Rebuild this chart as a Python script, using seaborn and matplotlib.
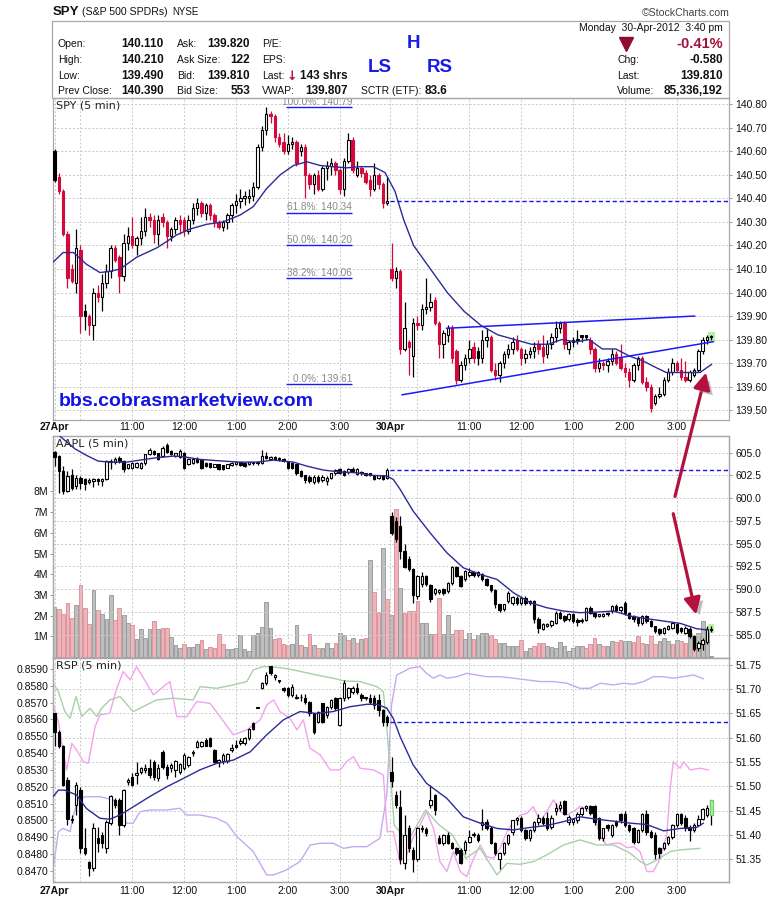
import numpy as np
import matplotlib
matplotlib.use("Agg")
import matplotlib.pyplot as plt
import matplotlib.patheffects as pe
from matplotlib.patches import Rectangle, ConnectionPatch
from matplotlib.lines import Line2D
import seaborn as sns

# ---------------- DATA ----------------
x_tick_pos = [0, 6, 18, 30, 42, 54, 66, 77.7, 84, 96, 108, 120, 132, 144]
x_tick_lab = ['27Apr', '', '11:00', '12:00', '1:00', '2:00', '3:00', '30Apr', '', '11:00', '12:00', '1:00', '2:00', '3:00']
day_labels = ['27Apr', '30Apr']

# SPY 5-min candles (27 Apr: 78 bars, 30 Apr: 75 bars)
spy_prior_close = 140.32
spy_open = [
 140.60,140.49,140.43,140.25,140.10,140.04,140.18,139.92,139.90,139.86,
 140.00,139.98,140.04,140.09,140.19,140.15,140.07,140.21,140.24,140.20,
 140.23,140.26,140.32,140.31,140.25,140.32,140.30,140.24,140.27,140.31,
 140.31,140.26,140.31,140.36,140.38,140.34,140.37,140.33,140.30,140.28,
 140.30,140.33,140.37,140.39,140.40,140.40,140.41,140.45,140.62,140.69,
 140.76,140.75,140.66,140.64,140.60,140.63,140.64,140.60,140.62,140.50,
 140.46,140.50,140.44,140.53,140.54,140.55,140.52,140.44,140.56,140.65,
 140.50,140.53,140.51,140.48,140.44,140.50,140.46,140.38,
 140.10,140.06,140.09,139.76,139.79,139.73,139.87,139.86,139.93,139.94,
 139.97,139.87,139.78,139.82,139.85,139.75,139.63,139.69,139.72,139.77,
 139.75,139.72,139.80,139.81,139.67,139.65,139.70,139.74,139.76,139.80,
 139.76,139.72,139.74,139.75,139.78,139.77,139.74,139.78,139.81,139.85,
 139.87,139.76,139.79,139.80,139.82,139.82,139.80,139.76,139.68,139.70,
 139.69,139.71,139.74,139.72,139.68,139.66,139.63,139.69,139.72,139.62,
 139.60,139.53,139.56,139.57,139.63,139.66,139.70,139.67,139.64,139.63,
 139.65,139.67,139.75,139.80,139.81]
spy_high = [
 140.61,140.51,140.44,140.26,140.12,140.27,140.20,139.95,139.91,140.02,
 140.03,140.08,140.12,140.20,140.20,140.16,140.25,140.28,140.32,140.24,
 140.32,140.36,140.34,140.33,140.33,140.34,140.31,140.28,140.32,140.33,
 140.32,140.33,140.38,140.40,140.39,140.38,140.38,140.34,140.31,140.31,
 140.34,140.38,140.42,140.44,140.43,140.44,140.47,140.63,140.71,140.79,
 140.77,140.76,140.68,140.68,140.67,140.66,140.65,140.63,140.63,140.51,
 140.51,140.52,140.54,140.56,140.57,140.56,140.53,140.57,140.68,140.66,
 140.56,140.54,140.52,140.50,140.55,140.51,140.47,140.49,
 140.21,140.11,140.10,139.96,139.80,139.89,139.90,139.95,140.06,140.00,
 139.98,139.88,139.84,139.86,139.86,139.76,139.71,139.74,139.80,139.79,
 139.77,139.84,139.85,139.82,139.70,139.71,139.75,139.78,139.81,139.82,
 139.77,139.76,139.77,139.79,139.80,139.82,139.80,139.83,139.88,139.88,
 139.88,139.80,139.81,139.84,139.82,139.82,139.81,139.77,139.72,139.71,
 139.72,139.76,139.75,139.78,139.70,139.68,139.70,139.73,139.73,139.64,
 139.61,139.57,139.60,139.64,139.68,139.72,139.71,139.72,139.71,139.67,
 139.68,139.76,139.81,139.82,139.82]
spy_low = [
 140.47,140.42,140.24,140.02,140.04,140.00,139.83,139.84,139.82,139.80,
 139.96,139.92,140.02,140.06,140.13,140.00,140.05,140.18,140.19,140.16,
 140.20,140.24,140.28,140.21,140.20,140.28,140.19,140.22,140.25,140.25,
 140.24,140.25,140.29,140.33,140.32,140.31,140.31,140.28,140.27,140.26,
 140.27,140.30,140.34,140.36,140.37,140.38,140.39,140.44,140.60,140.67,
 140.72,140.64,140.62,140.59,140.59,140.61,140.54,140.58,140.40,140.44,
 140.42,140.43,140.43,140.48,140.50,140.50,140.42,140.41,140.55,140.51,
 140.49,140.49,140.46,140.41,140.43,140.44,140.36,140.37,
 140.05,140.02,139.74,139.75,139.65,139.64,139.84,139.84,139.91,139.92,
 139.86,139.72,139.72,139.79,139.70,139.61,139.62,139.67,139.70,139.70,
 139.69,139.70,139.77,139.66,139.63,139.62,139.68,139.72,139.74,139.75,
 139.69,139.70,139.72,139.72,139.74,139.70,139.72,139.76,139.79,139.83,
 139.76,139.74,139.77,139.78,139.79,139.80,139.74,139.66,139.66,139.67,
 139.66,139.69,139.69,139.67,139.64,139.60,139.62,139.67,139.61,139.58,
 139.49,139.52,139.55,139.56,139.62,139.65,139.66,139.63,139.62,139.62,
 139.64,139.66,139.74,139.78,139.80]
spy_close = [
 140.48,140.43,140.25,140.06,140.05,140.19,139.90,139.90,139.86,140.00,
 139.98,140.04,140.09,140.19,140.14,140.07,140.21,140.24,140.20,140.23,
 140.26,140.32,140.31,140.25,140.31,140.30,140.24,140.27,140.31,140.29,
 140.26,140.31,140.36,140.38,140.34,140.37,140.33,140.30,140.28,140.30,
 140.33,140.37,140.39,140.40,140.41,140.41,140.45,140.62,140.69,140.76,
 140.75,140.66,140.63,140.60,140.63,140.64,140.55,140.62,140.50,140.46,
 140.50,140.44,140.53,140.54,140.55,140.52,140.44,140.56,140.65,140.52,
 140.53,140.51,140.47,140.44,140.50,140.46,140.38,140.39,
 140.06,140.09,139.76,139.85,139.77,139.87,139.86,139.93,139.94,139.96,
 139.87,139.78,139.83,139.85,139.72,139.63,139.69,139.72,139.76,139.72,
 139.72,139.80,139.81,139.67,139.65,139.70,139.74,139.76,139.79,139.76,
 139.72,139.74,139.75,139.77,139.76,139.73,139.78,139.81,139.85,139.87,
 139.78,139.79,139.80,139.80,139.81,139.81,139.76,139.68,139.70,139.69,
 139.71,139.74,139.70,139.68,139.66,139.63,139.69,139.72,139.62,139.60,
 139.51,139.56,139.57,139.63,139.66,139.70,139.67,139.64,139.63,139.66,
 139.67,139.75,139.80,139.81,139.81]
spy_prev_close = 140.39
spy_ma_x = [-0.3,2,4.4,7.4,10.5,12.8,15.2,19,23.7,28.3,31.4,35.2,39,43,46,49,52.2,55.3,58.4,61.5,
            64.5,67.6,70.7,73.8,76.5,78.8,80.8,83.1,87,90.9,94.8,98.7,102.6,106.5,110.4,114.3,117.4,
            120.6,123.7,126.8,129.9,133,136.1,139.3,141.6,145.5,149.4,152.1]
spy_ma_y = [140.13,140.17,140.17,140.12,140.085,140.09,140.10,140.15,140.19,140.245,140.27,140.29,140.30,
            140.33,140.365,140.44,140.50,140.54,140.556,140.54,140.535,140.53,140.535,140.535,140.51,140.43,
            140.31,140.20,140.10,140.00,139.92,139.86,139.82,139.80,139.78,139.78,139.80,139.79,139.80,139.76,
            139.76,139.73,139.71,139.68,139.66,139.66,139.66,139.695]
fib_pct = ['100.0%', '61.8%', '50.0%', '38.2%', '0.0%']
fib_price = [140.79, 140.34, 140.20, 140.06, 139.61]
trend_upper_x = [90.7, 148.2]; trend_upper_y = [139.848, 139.90]
trend_lower_x = [80.4, 152.5]; trend_lower_y = [139.565, 139.791]
spy_ticks = [139.50,139.60,139.70,139.80,139.90,140.00,140.10,140.20,140.30,140.40,140.50,140.60,140.70,140.80]

# AAPL 5-min candles + volume (millions)
aapl_prior_close = 606.0
aapl_open = [
 605.07,604.63,602.99,600.79,602.51,601.34,602.25,602.07,601.80,601.90,
 602.07,601.89,602.07,603.97,603.97,604.45,604.08,603.35,603.35,603.46,
 603.35,603.83,604.82,605.18,604.93,604.63,605.81,605.18,604.63,604.56,
 605.00,603.72,603.90,604.34,604.19,603.90,603.83,603.46,603.72,603.61,
 603.35,603.61,603.72,603.97,603.90,603.72,603.83,603.83,603.90,604.63,
 604.27,604.56,604.45,604.34,604.08,603.90,603.72,602.99,602.51,602.36,
 601.78,602.36,602.00,601.89,602.25,602.73,603.17,602.99,602.88,603.24,
 602.62,602.88,602.73,602.73,602.51,602.25,602.51,602.25,
 598.04,597.49,596.94,594.19,593.28,592.25,589.25,590.53,591.45,590.42,
 589.62,589.69,589.98,589.80,590.71,592.47,591.45,591.15,591.52,591.89,
 591.52,591.63,591.08,590.42,589.91,588.33,587.78,588.70,588.52,589.07,
 588.52,589.07,588.70,588.70,586.68,585.66,585.95,586.03,586.32,587.42,
 587.05,586.68,587.23,586.61,586.50,586.61,587.97,587.42,587.05,587.05,
 587.42,587.60,588.15,587.71,588.52,587.42,587.05,586.87,586.32,587.05,
 586.50,585.95,585.59,585.22,585.66,585.77,586.14,585.77,585.22,585.66,
 584.85,583.57,583.94,584.19,585.59]
aapl_high = [
 605.15,604.70,603.50,603.00,603.20,602.60,602.40,602.20,602.20,602.20,
 602.20,602.20,604.20,604.30,604.50,604.60,604.20,603.80,604.00,604.00,
 604.00,604.90,605.50,605.30,605.00,605.70,606.10,605.30,605.00,605.40,
 605.10,604.40,604.40,604.50,604.30,604.00,603.90,603.80,603.80,603.70,
 603.80,604.00,604.00,604.00,604.00,604.00,604.00,604.00,605.30,605.10,
 604.60,604.60,604.50,604.40,604.10,604.00,603.80,603.10,602.60,602.50,
 602.50,602.50,602.50,602.40,602.80,603.20,603.30,603.10,603.30,603.40,
 603.30,603.00,602.80,602.80,602.60,602.60,602.60,603.30,
 598.50,597.90,598.10,595.00,593.60,592.30,591.60,591.90,591.60,590.60,
 590.10,590.00,590.10,590.80,592.60,592.60,591.60,592.10,592.30,592.00,
 592.00,591.80,591.20,590.50,590.00,588.40,588.40,589.80,589.30,589.20,
 589.20,589.20,588.80,588.80,586.90,586.30,586.30,586.60,587.60,587.60,
 587.20,587.40,587.40,586.80,586.80,588.10,588.20,587.50,587.30,587.40,
 587.50,588.30,588.40,588.20,588.70,587.50,587.20,587.00,587.20,587.20,
 586.60,586.00,585.70,585.90,586.10,586.30,586.30,585.90,586.00,585.80,
 585.00,584.30,584.60,586.00,586.00]
aapl_low = [
 603.50,600.60,600.50,600.70,600.90,601.00,601.00,600.90,601.60,601.20,
 601.50,601.30,602.00,603.20,603.80,603.90,602.90,603.20,603.20,603.30,
 603.20,603.70,604.70,604.70,604.20,604.50,605.00,604.70,604.50,604.40,
 603.20,603.60,603.80,603.90,603.20,603.40,603.30,603.40,603.10,603.10,
 603.30,603.50,603.60,603.50,603.40,603.60,603.70,603.70,603.80,604.30,
 604.20,604.20,604.10,604.00,603.20,603.20,602.60,602.30,601.70,601.70,
 601.60,601.70,601.80,601.50,602.10,602.60,602.70,602.40,602.70,602.90,
 602.50,602.60,602.40,602.40,602.00,602.10,602.00,602.10,
 596.00,595.20,593.30,592.30,592.00,588.50,588.90,590.20,590.30,588.60,
 589.40,589.50,589.40,589.60,590.50,591.30,590.20,590.90,591.30,591.30,
 591.30,590.90,590.30,589.70,587.90,587.50,587.60,588.50,588.30,588.30,
 588.30,588.30,588.30,586.30,585.20,585.50,585.80,585.90,586.20,586.70,
 586.40,586.50,586.30,586.00,586.30,586.50,587.30,586.80,586.90,586.90,
 587.10,587.40,587.50,587.50,587.20,586.70,586.40,586.00,586.10,586.30,
 585.80,585.20,585.00,585.10,585.50,585.60,585.10,585.20,585.10,584.60,
 583.20,583.20,583.30,584.00,585.30]
aapl_close = [
 604.56,602.99,600.79,602.44,601.15,602.25,601.70,601.52,602.05,602.07,
 601.89,602.07,604.08,604.08,604.34,604.08,603.17,603.72,603.90,603.90,
 603.83,604.82,605.29,604.82,604.34,605.55,605.07,604.82,604.93,605.18,
 603.35,604.27,604.27,603.97,603.35,603.53,603.46,603.72,603.24,603.24,
 603.72,603.90,603.97,603.61,603.53,603.97,603.97,603.97,604.63,604.45,
 604.56,604.34,604.19,604.08,603.35,603.35,602.80,602.44,602.00,601.89,
 602.36,601.89,602.36,602.25,602.73,603.10,602.80,602.51,603.17,602.99,
 603.17,602.73,602.51,602.51,602.14,602.51,602.14,603.10,
 596.21,595.55,594.19,592.47,592.25,589.32,591.45,591.45,590.53,588.96,
 589.98,589.91,589.62,590.71,592.47,591.45,590.35,591.99,591.89,591.52,
 591.89,591.08,590.42,589.91,588.33,587.71,588.33,589.62,589.18,588.52,
 589.07,588.52,588.52,586.68,585.77,586.14,586.14,586.50,587.42,586.87,
 586.61,587.23,586.50,586.39,586.61,587.97,587.42,587.05,587.23,587.31,
 587.23,588.15,587.71,588.08,587.42,586.87,586.68,586.25,587.05,586.50,
 585.95,585.40,585.22,585.77,585.95,586.25,585.29,585.40,585.77,584.85,
 583.39,584.12,584.41,585.59,585.48]
aapl_volume = [
 2.40,2.30,2.06,2.60,1.87,2.53,3.46,2.38,1.58,3.22,
 2.25,2.06,1.82,2.98,1.79,2.38,2.01,1.66,1.53,0.85,
 1.34,0.90,1.37,1.72,1.34,1.38,1.38,0.97,0.56,0.42,
 0.61,0.50,0.50,0.61,0.82,0.37,0.48,0.45,1.10,0.61,
 0.37,0.37,0.45,1.05,0.37,0.27,1.05,1.18,1.45,2.66,
 1.42,0.85,0.92,0.61,0.58,0.61,1.53,0.58,0.48,1.10,
 0.60,0.45,0.43,0.66,0.43,0.66,1.14,1.06,0.82,0.92,
 0.66,0.85,0.93,4.69,3.16,2.19,5.25,2.79,
 2.03,7.13,3.35,2.11,2.22,2.22,2.71,1.66,1.63,1.10,
 1.10,2.83,1.10,2.01,1.10,1.29,1.29,0.89,1.18,0.85,
 1.05,1.18,1.18,1.05,0.85,0.66,0.66,0.53,0.53,0.53,
 0.82,0.29,0.45,0.53,0.69,0.66,0.53,0.48,0.45,0.72,
 0.53,0.29,0.45,0.53,0.53,0.43,0.61,0.93,0.61,0.53,
 0.53,0.77,0.72,0.82,0.77,0.77,0.72,1.01,0.69,0.61,
 1.01,0.61,0.77,0.93,0.77,0.61,0.82,0.77,0.69,1.13,
 0.69,1.18,1.74,1.42,0.05]
aapl_volume_dir = ("uddddudddu" "duuudduudu" "uuududduuu" "duuududddd" "uuuuuuuuuu"
                   "udddduudud" "uduuuduudu" "dududdud"
                   "ududddduuu" "dduuudduud" "uuudduuuuu" "duuddduuuu" "uuuuudddud"
                   "uudduudddu" "dduuududdu" "duuuu")
aapl_prev_close = 603.10
aapl_ma_x = [-0.5,1.3,4.7,7.4,10.1,12.8,16.7,19.8,23.6,27.5,29.8,33.7,39.1,42.9,46.8,50.7,55.3,58.4,62.2,
             66.1,69.9,73.8,76.9,78.4,80,83,86.9,90.8,94.6,98.5,102.4,106.2,110.1,113.9,117.8,121.6,125.5,
             129.4,133.2,137.1,141,144.8,148.6,151.3]
aapl_ma_y = [607.6,606.8,605.44,604.71,604.08,603.97,603.97,604.19,604.45,604.63,604.56,604.27,604.08,
             603.97,603.97,604.19,603.97,603.53,603.10,602.88,602.80,602.51,602.44,602.07,600.97,598.59,
             596.21,594.01,592.36,591.63,591.08,589.62,588.52,587.97,587.60,587.42,587.49,587.60,587.05,
             586.76,586.50,586.25,585.66,585.51]
aapl_ticks = [585.0, 587.5, 590.0, 592.5, 595.0, 597.5, 600.0, 602.5, 605.0]
vol_ticks = [1, 2, 3, 4, 5, 6, 7, 8]
vol_tick_lab = ['1M', '2M', '3M', '4M', '5M', '6M', '7M', '8M']

# RSP 5-min candles
rsp_prior_close = 51.60
rsp_open = [
 51.650,51.611,51.582,51.513,51.432,51.461,51.492,51.372,51.343,51.331,
 51.394,51.399,51.372,51.424,51.472,51.472,51.421,51.509,51.520,51.523,
 51.530,51.533,51.538,51.551,51.516,51.571,51.540,51.537,51.533,51.530,
 51.537,51.544,51.568,51.580,51.582,51.595,51.600,51.575,51.551,51.552,
 51.552,51.575,51.585,51.589,51.589,51.599,51.630,51.663,51.702,51.712,
 51.747,51.726,51.719,51.702,51.702,51.688,51.682,51.683,51.681,51.674,
 51.650,51.633,51.671,51.647,51.664,51.681,51.626,51.681,51.684,51.695,
 51.702,51.688,51.681,51.681,51.681,51.678,51.657,51.643,
 51.530,51.482,51.458,51.341,51.413,51.369,51.351,51.413,51.412,51.461,
 51.482,51.393,51.382,51.400,51.382,51.372,51.369,51.369,51.386,51.399,
 51.400,51.420,51.427,51.413,51.382,51.351,51.362,51.382,51.406,51.430,
 51.434,51.410,51.393,51.410,51.427,51.434,51.434,51.417,51.448,51.455,
 51.470,51.427,51.427,51.430,51.442,51.455,51.460,51.460,51.434,51.393,
 51.420,51.399,51.427,51.442,51.442,51.420,51.413,51.386,51.410,51.442,
 51.406,51.399,51.372,51.372,51.382,51.396,51.420,51.442,51.434,51.417,
 51.410,51.420,51.433,51.440,51.441]
rsp_high = [
 51.652,51.615,51.585,51.520,51.440,51.509,51.499,51.414,51.345,51.424,
 51.416,51.405,51.430,51.482,51.475,51.475,51.495,51.516,51.527,51.551,
 51.540,51.545,51.557,51.555,51.545,51.575,51.545,51.547,51.555,51.548,
 51.568,51.563,51.575,51.596,51.594,51.600,51.602,51.577,51.556,51.568,
 51.568,51.588,51.595,51.600,51.602,51.621,51.632,51.664,51.715,51.735,
 51.748,51.731,51.720,51.704,51.704,51.710,51.690,51.690,51.690,51.676,
 51.652,51.655,51.672,51.665,51.680,51.684,51.684,51.720,51.705,51.706,
 51.712,51.692,51.685,51.690,51.688,51.690,51.660,51.647,
 51.561,51.490,51.492,51.440,51.420,51.375,51.416,51.420,51.415,51.502,
 51.485,51.400,51.402,51.405,51.386,51.375,51.372,51.390,51.410,51.405,
 51.403,51.454,51.432,51.418,51.385,51.365,51.385,51.402,51.431,51.436,
 51.438,51.412,51.412,51.428,51.442,51.438,51.447,51.440,51.465,51.470,
 51.472,51.440,51.435,51.447,51.458,51.462,51.462,51.462,51.436,51.414,
 51.422,51.422,51.430,51.445,51.450,51.423,51.416,51.412,51.445,51.452,
 51.410,51.405,51.375,51.385,51.398,51.422,51.445,51.445,51.440,51.420,
 51.425,51.440,51.455,51.462,51.472]
rsp_low = [
 51.582,51.578,51.500,51.420,51.425,51.440,51.362,51.358,51.314,51.325,
 51.365,51.372,51.363,51.420,51.455,51.400,51.415,51.503,51.500,51.505,
 51.525,51.528,51.518,51.512,51.510,51.535,51.515,51.530,51.520,51.526,
 51.533,51.540,51.562,51.578,51.580,51.582,51.580,51.548,51.540,51.545,
 51.548,51.570,51.578,51.585,51.585,51.596,51.615,51.661,51.700,51.708,
 51.730,51.720,51.712,51.694,51.685,51.685,51.680,51.675,51.670,51.645,
 51.608,51.630,51.630,51.640,51.660,51.658,51.625,51.675,51.680,51.690,
 51.690,51.675,51.678,51.670,51.660,51.645,51.625,51.625,
 51.499,51.455,51.340,51.330,51.365,51.324,51.345,51.405,51.398,51.455,
 51.440,51.380,51.378,51.380,51.370,51.358,51.340,51.360,51.383,51.395,
 51.385,51.410,51.410,51.380,51.358,51.330,51.358,51.378,51.400,51.420,
 51.405,51.390,51.388,51.405,51.420,51.420,51.410,51.412,51.440,51.450,
 51.440,51.420,51.420,51.425,51.438,51.450,51.440,51.420,51.390,51.388,
 51.408,51.395,51.415,51.425,51.415,51.405,51.380,51.383,51.405,51.400,
 51.393,51.350,51.352,51.368,51.378,51.392,51.415,51.420,51.408,51.388,
 51.405,51.418,51.430,51.436,51.420]
rsp_close = [
 51.611,51.582,51.503,51.432,51.430,51.503,51.372,51.362,51.331,51.413,
 51.384,51.382,51.427,51.479,51.461,51.421,51.492,51.513,51.503,51.527,
 51.537,51.538,51.523,51.520,51.537,51.540,51.523,51.544,51.552,51.545,
 51.564,51.561,51.570,51.591,51.591,51.584,51.584,51.551,51.554,51.564,
 51.567,51.578,51.580,51.593,51.600,51.619,51.619,51.662,51.712,51.729,
 51.733,51.729,51.716,51.699,51.688,51.705,51.683,51.685,51.674,51.650,
 51.612,51.654,51.633,51.664,51.678,51.661,51.681,51.712,51.702,51.702,
 51.695,51.681,51.683,51.674,51.667,51.657,51.633,51.633,
 51.511,51.461,51.351,51.399,51.373,51.351,51.413,51.412,51.403,51.472,
 51.451,51.382,51.400,51.382,51.372,51.362,51.341,51.386,51.396,51.400,
 51.389,51.427,51.413,51.382,51.362,51.362,51.382,51.400,51.430,51.434,
 51.410,51.393,51.410,51.427,51.434,51.424,51.413,51.434,51.455,51.461,
 51.442,51.437,51.432,51.442,51.455,51.460,51.444,51.427,51.393,51.413,
 51.413,51.420,51.420,51.430,51.420,51.410,51.386,51.410,51.442,51.406,
 51.396,51.360,51.362,51.382,51.396,51.420,51.442,51.424,51.413,51.410,
 51.420,51.433,51.454,51.455,51.472]
rsp_prev_close = 51.633
rsp_ma_x = [-0.3,0.9,2.4,5.1,7.4,10.5,12.8,15.2,18.3,22.1,26,29.8,33.7,37.5,41.4,45.3,49.1,53,56.8,60.7,
            64.5,68.4,72.3,74.6,76.9,78.4,80,83,86.1,90.8,94.6,98.5,102.4,106.2,110.1,113.9,117.8,121.6,
            125.5,129.4,133.2,137.1,141,144.8,148.6,150.2]
rsp_ma_y = [51.479,51.492,51.492,51.482,51.454,51.434,51.432,51.441,51.458,51.479,51.499,51.516,51.534,
            51.547,51.554,51.571,51.606,51.637,51.654,51.650,51.654,51.664,51.669,51.669,51.661,51.640,
            51.602,51.544,51.506,51.475,51.437,51.424,51.413,51.410,51.415,51.419,51.427,51.437,51.432,
            51.428,51.424,51.421,51.408,51.413,51.415,51.424]
rsp_ticks = [51.35, 51.40, 51.45, 51.50, 51.55, 51.60, 51.65, 51.70, 51.75]
ratio_ticks = [0.8470,0.8480,0.8490,0.8500,0.8510,0.8520,0.8530,0.8540,0.8550,0.8560,0.8570,0.8580,0.8590]
# overlay lines on the left (ratio) scale
green_x = [-0.3,0.9,2.4,3.6,5.0,6.3,8.2,9.8,10.9,12.8,15.2,18.2,21.3,23.6,27.5,32.1,33.7,37.5,41.4,44.5,
           46.0,48.3,52.2,55.3,60.7,64.5,66.9,70.7,74.6,76.1,76.9,77.7,78.6,80.8,82.6,85.9,89.0,92.1,95.2,
           98.5,102.4,104.7,107.7,110.8,113.9,117.8,121.6,125.5,129.4,133.2,135.6,137.1,139.4,142.5,144.8,149.4]
green_y = [0.85815,0.85765,0.85646,0.85607,0.85736,0.85617,0.85666,0.85617,0.85666,0.85716,0.85736,0.85646,
           0.85686,0.85716,0.85726,0.85716,0.85795,0.85785,0.85805,0.85825,0.85894,0.85914,0.85908,0.85894,
           0.85864,0.85845,0.85829,0.85825,0.85795,0.85765,0.8555,0.8530,0.84973,0.84904,0.84914,0.85062,
           0.84973,0.84914,0.84775,0.84834,0.84676,0.84745,0.84739,0.84755,0.84795,0.84854,0.84884,0.84854,
           0.84854,0.84805,0.84755,0.84735,0.84765,0.84815,0.84825,0.84834]
pink_x = [-0.3,0.9,2.0,2.8,4.0,5.1,6.7,7.8,9.4,10.5,12.8,14.4,15.9,17.5,19.0,21.3,22.9,25.2,26.7,28.3,
          30.6,32.9,36.0,38.3,41.4,44.5,47.6,49.1,50.7,52.2,54.5,56.1,57.6,59.1,61.5,63.8,66.1,67.6,69.2,
          70.7,73.8,76.1,77.0,78.4,79.9,81.5,83.1,84.6,86.1,87.7,89.2,90.8,92.3,93.9,95.4,97.0,98.5,100.0,
          101.6,103.1,104.7,106.2,107.8,109.3,110.8,112.4,113.9,115.5,117.0,118.6,120.1,121.6,123.2,124.7,
          126.3,127.8,129.4,130.9,132.5,134.0,135.5,137.1,138.6,140.2,141.7,142.5,143.2,144.8,145.6,147.1,
          149.4,151.4]
pink_y = [0.85686,0.85587,0.85409,0.85300,0.85458,0.85419,0.85349,0.85339,0.85557,0.85627,0.85637,0.85785,
          0.85884,0.85835,0.85914,0.85815,0.85746,0.85795,0.85825,0.85617,0.85617,0.85706,0.85696,0.85617,
          0.85508,0.85538,0.85597,0.85686,0.85716,0.85646,0.85607,0.85538,0.85597,0.85429,0.85389,0.85300,
          0.85300,0.85349,0.85379,0.85310,0.85300,0.85270,0.84933,0.84933,0.84755,0.84795,0.84904,0.84973,
          0.85052,0.84953,0.84755,0.84696,0.84815,0.84696,0.84666,0.84775,0.84854,0.84785,0.84775,0.84834,
          0.84933,0.84993,0.85032,0.85042,0.85082,0.84993,0.85052,0.85122,0.85052,0.85032,0.85052,0.85082,
          0.85072,0.85052,0.84904,0.84854,0.84864,0.84864,0.84838,0.84844,0.84815,0.84696,0.84696,0.84775,
          0.84914,0.85191,0.85349,0.85310,0.85349,0.85300,0.85310,0.85300]
violet_x = [-0.3,0.9,2.0,3.6,4.4,5.5,7.4,10.5,13.6,15.6,16.7,18.2,19.8,22.1,26.0,29.0,30.6,33.7,37.5,39.9,
            42.2,46.0,49.1,50.7,53.7,56.8,59.2,61.5,64.5,66.9,69.2,72.3,75.3,76.9,78.0,79.2,80.0,82.2,84.6,
            86.1,87.7,89.2,90.8,93.1,95.4,97.7,100.0,103.1,106.2,109.3,112.4,115.5,118.6,121.6,123.9,126.3,
            129.4,131.7,134.0,136.3,138.6,140.9,143.2,145.6,147.9,150.2]
violet_y = [0.84716,0.84933,0.84953,0.84933,0.85032,0.85131,0.85141,0.85141,0.85122,0.85052,0.84983,0.84983,
            0.85052,0.85062,0.85062,0.85072,0.85032,0.85032,0.85013,0.84983,0.84904,0.84815,0.84676,0.84676,
            0.84706,0.84755,0.84854,0.84864,0.84864,0.84834,0.84844,0.84844,0.84894,0.85151,0.85686,0.85864,
            0.85874,0.85904,0.85914,0.85874,0.85845,0.85864,0.85845,0.85854,0.85874,0.85864,0.85854,0.85854,
            0.85845,0.85835,0.85825,0.85825,0.85815,0.85785,0.85785,0.85815,0.85805,0.85815,0.85809,0.85825,
            0.85854,0.85854,0.85845,0.85854,0.85864,0.85841]

# annotation arrows (bar index, price)
arrow_up_tail = (143.6, 600.2)   # AAPL scale
arrow_up_tip = (150.8, 139.66)   # SPY scale
arrow_dn_tail = (143.2, 598.3)   # AAPL scale
arrow_dn_tip = (148.5, 587.2)    # AAPL scale

# header
hdr_lab1 = ['Open:', 'High:', 'Low:', 'Prev Close:']
hdr_val1 = ['140.110', '140.210', '139.490', '140.390']
hdr_lab2 = ['Ask:', 'Ask Size:', 'Bid:', 'Bid Size:']
hdr_val2 = ['139.820', '122', '139.810', '553']
hdr_lab4 = ['Chg:', 'Last:', 'Volume:']
hdr_val4 = ['-0.580', '139.810', '85,336,192']

# ---------------- STYLE / FIGURE ----------------
sns.set_theme(style="white")
plt.rcParams['font.family'] = ['Liberation Sans', 'DejaVu Sans']

W, H = 780, 901
fig = plt.figure(figsize=(W / 100, H / 100), dpi=100)
fig.patch.set_facecolor('white')
XL, XR = 53, 729
XMIN, XMAX = -0.35, 156.1

def make_ax(top, bot):
    return fig.add_axes([XL / W, 1 - bot / H, (XR - XL) / W, (bot - top) / H])

ax1 = make_ax(98, 420)
ax2v = make_ax(436, 658)
ax2 = make_ax(436, 658)
ax3l = make_ax(658, 882)
ax3 = make_ax(658, 882)
GRID = dict(color='#c9c9c9', linestyle=(0, (2, 2)), linewidth=0.7)
SPINE = '#a8a8a8'
TICKC = '#111111'

for a in (ax1, ax2v, ax2, ax3l, ax3):
    a.set_xlim(XMIN, XMAX)
    for s in a.spines.values():
        s.set_color(SPINE); s.set_linewidth(0.9)
for a in (ax2, ax3):
    a.patch.set_visible(False)

def draw_candles(ax, o, h, l, c, prior, up, dn, minh):
    o, h, l, c = (np.asarray(v, float) for v in (o, h, l, c))
    h = np.maximum(h, np.maximum(o, c)); l = np.minimum(l, np.minimum(o, c))
    x = np.arange(len(c))
    prev = np.r_[prior, c[:-1]]
    col = [dn if c[i] < prev[i] else up for i in range(len(c))]
    face = ['white' if c[i] >= o[i] else col[i] for i in range(len(c))]
    ax.vlines(x, l, h, colors=col, linewidth=0.9, zorder=3)
    bot = np.minimum(o, c); ht = np.maximum(np.abs(c - o), minh)
    ax.bar(x, ht, bottom=bot, width=0.56, color=face, edgecolor=col, linewidth=0.8, zorder=4)
    return h, l

def setup_x(ax, labels, pad):
    ax.set_xticks(x_tick_pos)
    if labels:
        ax.set_xticklabels(x_tick_lab)
        for t in ax.get_xticklabels():
            if t.get_text() in day_labels:
                t.set_fontweight('bold')
    else:
        ax.set_xticklabels([])
    ax.tick_params(axis='x', length=0, pad=pad, labelsize=7.5, colors=TICKC)

def setup_right(ax, ticks, fmt):
    ax.yaxis.tick_right()
    ax.set_yticks(ticks)
    ax.set_yticklabels([fmt.format(v) for v in ticks])
    ax.tick_params(axis='y', right=True, left=False, length=2.5, width=0.6, color='#888888',
                   pad=2, labelsize=7.5, labelcolor=TICKC)

def panel_label(ax, s):
    ax.annotate(s, xy=(0, 1), xycoords='axes fraction', xytext=(2, -2), textcoords='offset points',
                ha='left', va='top', fontsize=8, family='DejaVu Sans', color='#222222', zorder=10)

# ---------- SPY panel ----------
h1, l1 = draw_candles(ax1, spy_open, spy_high, spy_low, spy_close, spy_prior_close, 'black', '#d30b3c', 0.004)
n = len(spy_close)
ax1.add_patch(Rectangle((n - 1 - 0.75, l1[-1] - 0.012), 1.5, h1[-1] - l1[-1] + 0.024,
                        facecolor='#b6f0a4', edgecolor='none', zorder=2))
sns.lineplot(x=spy_ma_x, y=spy_ma_y, ax=ax1, color='#2b2b98', linewidth=1.0, estimator=None, sort=False, zorder=5)
sns.lineplot(x=trend_upper_x, y=trend_upper_y, ax=ax1, color='#1a1aff', linewidth=1.1, estimator=None, zorder=6)
sns.lineplot(x=trend_lower_x, y=trend_lower_y, ax=ax1, color='#1a1aff', linewidth=1.1, estimator=None, zorder=6)
ax1.hlines(spy_prev_close, 77.7, XMAX, colors='#1515e8', linestyles=(0, (3, 2)), linewidth=1.0, zorder=5)
for p, v in zip(fib_pct, fib_price):
    ax1.hlines(v, 53.6, 68.9, colors='#1a1aff', linewidth=1.0, zorder=6)
    ax1.annotate(f'{p}: {v:.2f}', xy=(68.9, v), xytext=(0, 1.5), textcoords='offset points',
                 ha='right', va='baseline', fontsize=7.2, color='#8a8a8a', zorder=7,
                 annotation_clip=False, clip_on=True)
ax1.set_ylim(139.458, 140.827)
setup_right(ax1, spy_ticks, '{:.2f}')
setup_x(ax1, True, 1.5)
ax1.grid(True, **GRID)
panel_label(ax1, 'SPY (5 min)')
fig.text(59 / W, 1 - 401 / H, 'bbs.cobrasmarketview.com', fontsize=14, fontweight='bold',
         color='#1414e6', va='center', ha='left')

# ---------- AAPL panel ----------
xv = np.arange(len(aapl_volume))
vface = ['#efb4ba' if d == 'd' else '#bebebe' for d in aapl_volume_dir]
vedge = ['#d88b94' if d == 'd' else '#949494' for d in aapl_volume_dir]
ax2v.bar(xv, aapl_volume, width=0.86, color=vface, edgecolor=vedge, linewidth=0.6)
ax2v.set_ylim(-0.05, 10.68)
ax2v.yaxis.tick_left()
ax2v.set_yticks(vol_ticks)
ax2v.set_yticklabels(vol_tick_lab)
ax2v.tick_params(axis='y', left=True, length=2, width=0.6, color='#888888', pad=1.5, labelsize=7.5, labelcolor=TICKC)
ax2v.set_xticks([])

h2, l2 = draw_candles(ax2, aapl_open, aapl_high, aapl_low, aapl_close, aapl_prior_close, 'black', 'black', 0.12)
ax2.add_patch(Rectangle((n - 1 - 0.7, l2[-1] - 0.15), 1.4, h2[-1] - l2[-1] + 0.3,
                        facecolor='#b6f0a4', edgecolor='none', zorder=2))
sns.lineplot(x=aapl_ma_x, y=aapl_ma_y, ax=ax2, color='#2b2b98', linewidth=1.0, estimator=None, sort=False, zorder=5)
ax2.hlines(aapl_prev_close, 77.7, XMAX, colors='#1515e8', linestyles=(0, (3, 2)), linewidth=1.0, zorder=5)
ax2.set_ylim(582.44, 606.84)
setup_right(ax2, aapl_ticks, '{:.1f}')
setup_x(ax2, False, 0)
ax2.grid(True, **GRID)
panel_label(ax2, 'AAPL (5 min)')

# ---------- RSP panel ----------
sns.lineplot(x=violet_x, y=violet_y, ax=ax3l, color='#c6a8f2', linewidth=1.0, estimator=None, sort=False)
sns.lineplot(x=pink_x, y=pink_y, ax=ax3l, color='#f2a2ee', linewidth=1.0, estimator=None, sort=False)
sns.lineplot(x=green_x, y=green_y, ax=ax3l, color='#a9cfa9', linewidth=1.0, estimator=None, sort=False)
ax3l.set_ylim(0.84634, 0.85965)
ax3l.yaxis.tick_left()
ax3l.set_yticks(ratio_ticks)
ax3l.set_yticklabels([f'{v:.4f}' for v in ratio_ticks])
ax3l.tick_params(axis='y', left=True, length=2, width=0.6, color='#888888', pad=1.5, labelsize=7.5, labelcolor=TICKC)
ax3l.set_xticks([])

h3, l3 = draw_candles(ax3, rsp_open, rsp_high, rsp_low, rsp_close, rsp_prior_close, 'black', 'black', 0.002)
ax3.add_patch(Rectangle((n - 1 - 0.32, min(rsp_open[-1], rsp_close[-1])), 0.64, abs(rsp_close[-1] - rsp_open[-1]),
                        facecolor='#b4f0a2', edgecolor='#6ccc6c', linewidth=0.9, zorder=5))
sns.lineplot(x=rsp_ma_x, y=rsp_ma_y, ax=ax3, color='#2b2b98', linewidth=1.0, estimator=None, sort=False, zorder=6)
ax3.hlines(rsp_prev_close, 77.7, XMAX, colors='#1515e8', linestyles=(0, (3, 2)), linewidth=1.0, zorder=5)
ax3.set_ylim(51.3026, 51.7644)
setup_right(ax3, rsp_ticks, '{:.2f}')
setup_x(ax3, True, 3)
ax3.grid(True, **GRID)
panel_label(ax3, 'RSP (5 min)')

for a in (ax1, ax2v, ax2, ax3l, ax3):
    a.set_xlabel(''); a.set_ylabel('')
    a.set_xlim(XMIN, XMAX)
    if a.get_legend():
        a.get_legend().remove()

# ---------- arrows ----------
ARW = '#b3123f'
shadow = [pe.SimplePatchShadow(offset=(3, -3), shadow_rgbFace='#888888', alpha=0.55), pe.Normal()]
for tail, tail_ax, tip, tip_ax in ((arrow_up_tail, ax2, arrow_up_tip, ax1),
                                   (arrow_dn_tail, ax2, arrow_dn_tip, ax2)):
    cp = ConnectionPatch(xyA=tail, coordsA=tail_ax.transData, xyB=tip, coordsB=tip_ax.transData,
                         arrowstyle='-|>,head_length=10,head_width=5', mutation_scale=1,
                         color=ARW, linewidth=2.3, shrinkA=0, shrinkB=0, zorder=20)
    cp.set_path_effects(shadow)
    fig.add_artist(cp)

# ---------- header ----------
def ftxt(x, y, s, **kw):
    kw.setdefault('va', 'center')
    kw.setdefault('fontsize', 7.5)
    kw.setdefault('color', '#111111')
    return fig.text(x / W, 1 - y / H, s, **kw)

fig.add_artist(Rectangle((52 / W, 1 - 98 / H), (729 - 52) / W, (98 - 21) / H, transform=fig.transFigure,
                         fill=False, edgecolor=SPINE, linewidth=0.9))
ftxt(53, 12, 'SPY', fontsize=9.5, fontweight='bold')
ftxt(82, 12, '(S&P 500 SPDRs)', fontsize=7.6)
ftxt(172, 12, 'NYSE', fontsize=7.0)
ftxt(730, 13, '\u00a9StockCharts.com', fontsize=7.6, ha='right', color='#444444')
ftxt(723, 28, 'Monday  30-Apr-2012  3:40 pm', ha='right')
rows = [44, 60, 76, 91.5]
for y, lab, val in zip(rows, hdr_lab1, hdr_val1):
    ftxt(58, y, lab)
    ftxt(164, y, val, ha='right', fontsize=8.5, fontweight='bold')
for y, lab, val in zip(rows, hdr_lab2, hdr_val2):
    ftxt(177, y, lab)
    ftxt(250, y, val, ha='right', fontsize=8.5, fontweight='bold')
ftxt(262, 44, 'P/E:')
ftxt(262, 60, 'EPS:')
ftxt(262, 76, 'Last:')
ftxt(292, 76, '\u2193', family='DejaVu Sans', color='#b3123f', fontsize=9, ha='center', fontweight='bold')
ftxt(348, 76, '143 shrs', ha='right', fontsize=8.5, fontweight='bold')
ftxt(262, 91.5, 'VWAP:')
ftxt(348, 91.5, '139.807', ha='right', fontsize=8.5, fontweight='bold')
ftxt(361, 91.5, 'SCTR (ETF):')
ftxt(425, 91.5, '83.6', fontsize=8.5, fontweight='bold')
ftxt(414, 43, 'H', ha='center', fontsize=13.5, fontweight='bold', color='#1a1ae6')
ftxt(380, 67, 'LS', ha='center', fontsize=13.5, fontweight='bold', color='#1a1ae6')
ftxt(440, 68, 'RS', ha='center', fontsize=13.5, fontweight='bold', color='#1a1ae6')
fig.add_artist(Line2D([625.5 / W], [1 - 44 / H], marker='v', markersize=10, color='#8e0b2f',
                      transform=fig.transFigure, linestyle='none'))
ftxt(723, 44, '-0.41%', ha='right', fontsize=10.5, fontweight='bold', color='#a3123a')
for y, lab, val in zip(rows[1:], hdr_lab4, hdr_val4):
    ftxt(617, y, lab)
    ftxt(723, y, val, ha='right', fontsize=8.5, fontweight='bold')

fig.savefig('out.png', dpi=100, facecolor='white')
